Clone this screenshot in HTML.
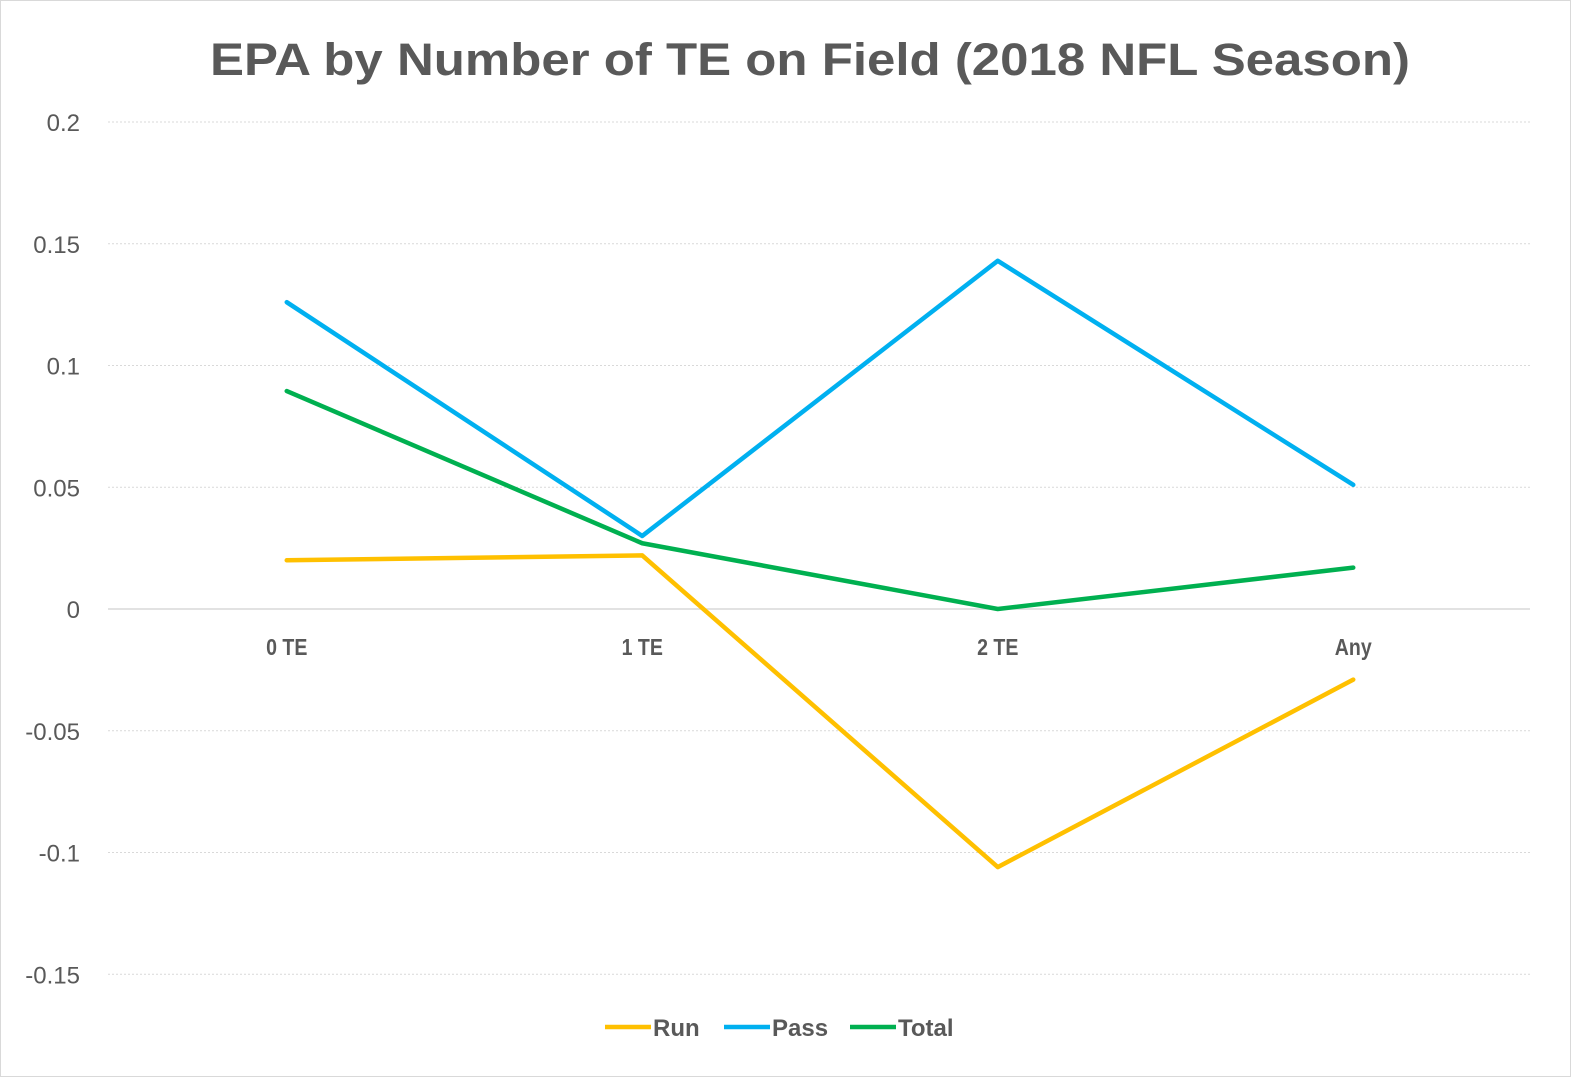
<!DOCTYPE html>
<html><head><meta charset="utf-8"><style>
html,body{margin:0;padding:0;background:#fff;}
svg{display:block;font-family:"Liberation Sans",sans-serif;}
</style></head><body>
<svg id="chart" width="1571" height="1077" viewBox="0 0 1571 1077">
<rect x="0.5" y="0.5" width="1570" height="1076" fill="#fff" stroke="#d9d9d9"/>
<text x="810" y="75" text-anchor="middle" font-size="45" font-weight="bold" fill="#595959" textLength="1200" lengthAdjust="spacingAndGlyphs">EPA by Number of TE on Field (2018 NFL Season)</text>
<g id="grid"></g><g id="yticks"></g><g id="xticks"></g><g id="series"></g>
<g id="legend"></g>
</svg>
<script>
const categories = ["0 TE","1 TE","2 TE","Any"];
const runValues = [0.020, 0.022, -0.106, -0.029];
const passValues = [0.126, 0.030, 0.143, 0.051];
const totalValues = [0.0895, 0.027, 0.000, 0.017];
const yTickValues = [0.2, 0.15, 0.1, 0.05, 0, -0.05, -0.1, -0.15];
const yTickLabels = ["0.2","0.15","0.1","0.05","0","-0.05","-0.1","-0.15"];
const seriesNames = ["Run","Pass","Total"];

const NS="http://www.w3.org/2000/svg";
const plotL=108, plotR=1530, y0px=609, pxPerUnit=2435;
const yScale=v=>y0px - v*pxPerUnit;
const xScale=i=>plotL + (plotR-plotL)/categories.length*(i+0.5);
function mk(tag,attrs,parent){const e=document.createElementNS(NS,tag);for(const k in attrs)e.setAttribute(k,attrs[k]);parent.appendChild(e);return e;}

const grid=document.getElementById('grid'), yt=document.getElementById('yticks');
yTickValues.forEach((v,i)=>{
  const y=yScale(v);
  const l=mk('line',{x1:plotL,x2:plotR,y1:y,y2:y,stroke:'#d9d9d9','stroke-width':v===0?1.5:1,'stroke-dasharray':v===0?'none':'2,2'},grid);
  
  
  const t=mk('text',{x:80,y:y+9,'text-anchor':'end','font-size':24,fill:'#595959'},yt);
  t.textContent=yTickLabels[i];
  
  
});
const xt=document.getElementById('xticks');
categories.forEach((c,i)=>{
  const cx=xScale(i)+1;
  const t=mk('text',{x:cx,y:655,'text-anchor':'middle','font-size':23,'font-weight':'bold',fill:'#595959',transform:`translate(${cx},0) scale(0.85,1) translate(${-cx},0)`},xt);
  t.textContent=c;
  
  
});
const colors=["#ffc000","#00b0f0","#00b050"];
const data=[runValues,passValues,totalValues];
const sg=document.getElementById('series');
data.forEach((vals,s)=>{
  const pts=vals.map((v,i)=>(xScale(i)+1)+','+yScale(v)).join(' ');
  const p=mk('polyline',{points:pts,fill:'none',stroke:colors[s],'stroke-width':4.5,'stroke-linejoin':'round','stroke-linecap':'round'},sg);
  
  
});
const lg=document.getElementById('legend');
const legX=[605,724,850];
seriesNames.forEach((n,s)=>{
  const l=mk('line',{x1:legX[s],x2:legX[s]+46,y1:1027,y2:1027,stroke:colors[s],'stroke-width':4.5},lg);
  
  
  const t=mk('text',{x:legX[s]+48,y:1036,'font-size':24,'font-weight':'bold',fill:'#595959'},lg);
  t.textContent=n;
  
  
});
</script>
</body></html>
